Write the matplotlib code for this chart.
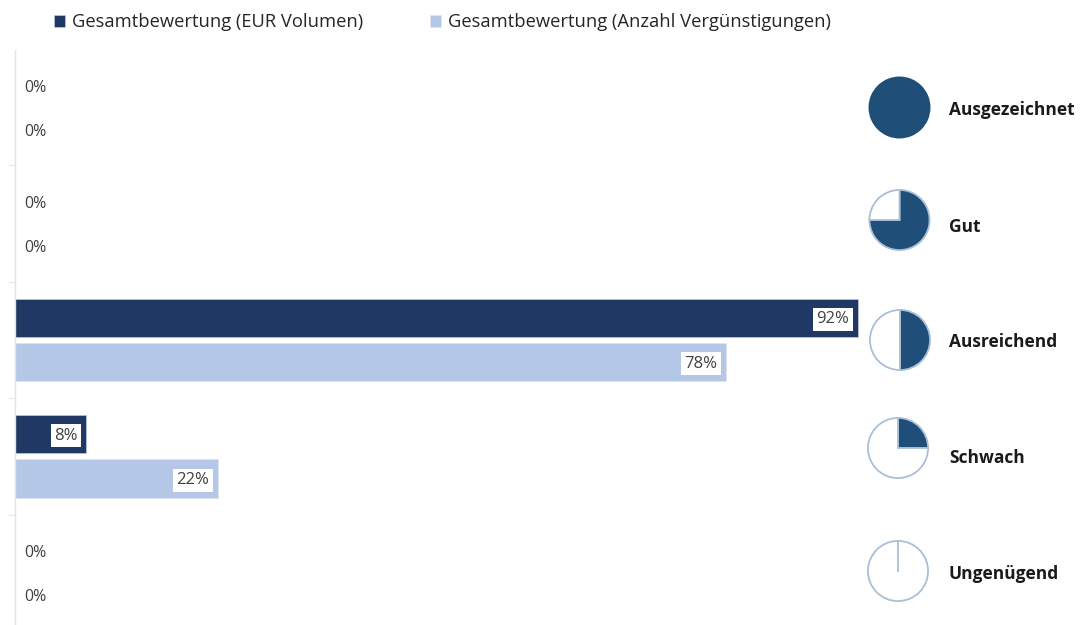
import matplotlib
matplotlib.use("Agg")
import matplotlib.pyplot as plt
import numpy as np

# values in percent, top to bottom
categories = ["Ausgezeichnet", "Gut", "Ausreichend", "Schwach", "Ungenügend"]
eur_volumen = [0, 0, 92.2, 7.8, 0]
anzahl = [0, 0, 77.8, 22.2, 0]
series_names = ["Gesamtbewertung (EUR Volumen)", "Gesamtbewertung (Anzahl Vergünstigungen)"]
harvey_fill = [100, 75, 50, 25, 0]

# pie centres in figure pixels, label heights
pie_centres = [(899.5, 107.5), (899.5, 220), (900, 340), (898, 448), (898, 571)]
label_y = [110, 227, 342, 458, 574]

W, H = 1080, 625
DARK = "#1f3864"
LIGHT = "#b4c7e7"
PIE_DARK = "#1f4e79"
PIE_EDGE = "#a9bfd6"
TEXT = "#404040"

plt.rcParams['font.family'] = ['Open Sans', 'DejaVu Sans']

fig = plt.figure(figsize=(W / 100, H / 100), dpi=100)
ax = fig.add_axes([15 / W, 0, 843 / 0.922 / W, 575 / H])

y = np.arange(len(categories))
bar_h = 0.33
offset = 0.19
bars1 = ax.barh(y - offset, eur_volumen, bar_h, color=DARK, edgecolor="#c9d3e6", linewidth=0.4, label=series_names[0])
bars2 = ax.barh(y + offset, anzahl, bar_h, color=LIGHT, edgecolor="#dfe6f2", linewidth=0.4, label=series_names[1])

ax.set_xlim(0, 100)
ax.set_ylim(4.449, -0.491)

for spine in ["top", "right", "bottom"]:
    ax.spines[spine].set_visible(False)
ax.spines["left"].set_color("#e4e4e4")
ax.spines["left"].set_linewidth(1.0)
ax.set_xticks([])
ax.set_yticks(list(y[:-1] + 0.5))
ax.set_yticklabels([])
ax.tick_params(axis="y", length=5, color="#e8e8e8", width=0.8, direction="out")

# data labels
for bars, vals in [(bars1, eur_volumen), (bars2, anzahl)]:
    for b, v in zip(bars, vals):
        yc = b.get_y() + b.get_height() / 2
        if v == 0:
            ax.text(1.0, yc + 0.022, "0%", va="center", ha="left", fontsize=11.5, color=TEXT)
        else:
            ax.text(v - 0.95, yc + 0.014, f"{round(v)}%", va="center", ha="right", fontsize=12, color=TEXT,
                    bbox=dict(facecolor="white", edgecolor="none", pad=2.5))

fig.legend(handles=[bars1, bars2], loc="upper left", bbox_to_anchor=(37 / W, 1 + 3 / H), ncol=2,
           frameon=False, fontsize=13.2, handlelength=0.6, handleheight=0.6, handletextpad=0.4,
           columnspacing=3.65, labelcolor="#262626")

# harvey balls
for name, fill, (cx, cy), ly in zip(categories, harvey_fill, pie_centres, label_y):
    r = 31
    pie_ax = fig.add_axes([(cx - r) / W, 1 - (cy + r) / H, 2 * r / W, 2 * r / H])
    if fill in (0, 100):
        # full circle, pie would draw a seam or nothing for the zero slice
        pie_ax.pie([100], colors=[PIE_DARK if fill else "white"], startangle=90, radius=0.97,
                   wedgeprops=dict(edgecolor=PIE_DARK if fill else PIE_EDGE, linewidth=1.3))
        if fill == 0:
            pie_ax.plot([0, 0], [0, 0.97], color=PIE_EDGE, linewidth=1.3)
    else:
        pie_ax.pie([fill, 100 - fill], colors=[PIE_DARK, "white"], startangle=90, counterclock=False, radius=0.97,
                   wedgeprops=dict(edgecolor=PIE_EDGE, linewidth=1.3))
    pie_ax.set_xlim(-1, 1)
    pie_ax.set_ylim(-1, 1)
    fig.text(949 / W, 1 - ly / H, name, va="center", ha="left", fontsize=12.5, fontweight="bold", color="#1a1a1a")

fig.savefig("out.png", dpi=100)
